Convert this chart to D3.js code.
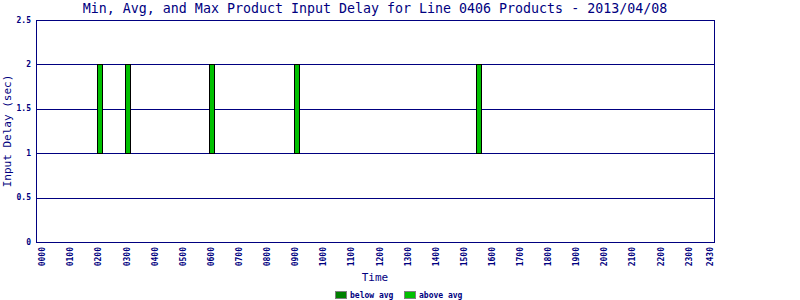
<!doctype html>
<html lang="en">
<head>
  <meta charset="utf-8">
  <title>Product Input Delay</title>
  <script src="https://d3js.org/d3.v7.min.js"></script>
  <style>
  body { margin: 0; background: #fff; }
  text { font-family: "DejaVu Sans Mono", monospace; fill: #000080; }
  </style>
</head>
<body>
<script>
  // data (delay in seconds, per product run)
  var times = ["02:03", "03:03", "06:03", "09:03", "15:33"];
  var minDelay = [1, 1, 1, 1, 1];
  var avgDelay = [1, 1, 1, 1, 1];
  var maxDelay = [2, 2, 2, 2, 2];

  var yTicks = [0, 0.5, 1, 1.5, 2, 2.5];
  var xTickHours = [0, 1, 2, 3, 4, 5, 6, 7, 8, 9, 10, 11, 12, 13, 14, 15, 16, 17, 18, 19, 20, 21, 22, 23, 23.75];
  var xTickLabels = ["0000", "0100", "0200", "0300", "0400", "0500", "0600", "0700", "0800", "0900",
                     "1000", "1100", "1200", "1300", "1400", "1500", "1600", "1700", "1800", "1900",
                     "2000", "2100", "2200", "2300", "2430"];
  var legendNames = ["below avg", "above avg"];
  var legendColors = ["#008000", "#00c000"];

  var width = 800, height = 300;
  var margin = {top: 20, right: 85, bottom: 58, left: 36};
  var navy = "#000080";

  function toHours(t) {
    var p = t.split(":");
    return +p[0] + (+p[1]) / 60;
  }

  var x = d3.scaleLinear()
      .domain([-0.23, 23.93])
      .range([margin.left, width - margin.right]);
  var y = d3.scaleLinear()
      .domain([0, 2.5])
      .range([height - margin.bottom, margin.top]);

  var svg = d3.select("body").append("svg")
      .attr("width", width)
      .attr("height", height);

  // title
  svg.append("text")
      .attr("x", 375)
      .attr("y", 13)
      .attr("text-anchor", "middle")
      .style("font-size", "13.3px")
      .text("Min, Avg, and Max Product Input Delay for Line 0406 Products - 2013/04/08");

  // horizontal grid lines
  svg.append("g")
    .selectAll("line")
    .data(yTicks.filter(function(d) { return d > 0 && d < 2.5; }))
    .enter().append("line")
      .attr("x1", x.range()[0])
      .attr("x2", x.range()[1])
      .attr("y1", function(d) { return Math.round(y(d)) + 0.5; })
      .attr("y2", function(d) { return Math.round(y(d)) + 0.5; })
      .attr("stroke", navy)
      .attr("stroke-width", 1);

  // bars: min->avg (below avg), avg->max (above avg)
  var barW = 5;
  var bars = svg.append("g");
  times.forEach(function(t, i) {
    var cx = Math.round(x(toHours(t)));
    var segs = [
      {lo: minDelay[i], hi: avgDelay[i], color: legendColors[0]},
      {lo: avgDelay[i], hi: maxDelay[i], color: legendColors[1]}
    ];
    segs.forEach(function(s) {
      if (s.hi <= s.lo) return;
      bars.append("rect")
          .attr("x", cx - barW / 2)
          .attr("y", Math.round(y(s.hi)) + 0.5)
          .attr("width", barW)
          .attr("height", Math.round(y(s.lo)) - Math.round(y(s.hi)))
          .attr("fill", s.color)
          .attr("stroke", "#000")
          .attr("stroke-width", 1);
    });
  });

  // plot frame
  svg.append("rect")
      .attr("x", margin.left + 0.5)
      .attr("y", margin.top + 0.5)
      .attr("width", x.range()[1] - x.range()[0] - 1)
      .attr("height", y.range()[0] - y.range()[1])
      .attr("fill", "none")
      .attr("stroke", navy)
      .attr("stroke-width", 1);

  // y tick labels
  svg.append("g")
    .selectAll("text")
    .data(yTicks)
    .enter().append("text")
      .attr("x", 31)
      .attr("y", function(d) { return y(d); })
      .attr("dy", "0.32em")
      .attr("text-anchor", "end")
      .style("font-size", "8px")
      .style("font-weight", "bold")
      .text(function(d) { return d; });

  // x tick labels (rotated)
  svg.append("g")
    .selectAll("text")
    .data(xTickHours)
    .enter().append("text")
      .attr("transform", function(d) { return "translate(" + x(d) + ",247) rotate(-90)"; })
      .attr("dy", "0.35em")
      .attr("text-anchor", "end")
      .style("font-size", "8px")
      .style("font-weight", "bold")
      .text(function(d, i) { return xTickLabels[i]; });

  // axis titles
  svg.append("text")
      .attr("x", 375)
      .attr("y", 281)
      .attr("text-anchor", "middle")
      .style("font-size", "11px")
      .text("Time");

  svg.append("text")
      .attr("transform", "translate(11," + ((margin.top + height - margin.bottom) / 2) + ") rotate(-90)")
      .attr("text-anchor", "middle")
      .style("font-size", "11px")
      .text("Input Delay (sec)");

  // legend
  var legend = svg.append("g");
  var legendX = [335, 404];
  legendNames.forEach(function(name, i) {
    legend.append("rect")
        .attr("x", legendX[i] + 0.5)
        .attr("y", 291.5)
        .attr("width", 11)
        .attr("height", 7)
        .attr("fill", legendColors[i])
        .attr("stroke", "#808080")
        .attr("stroke-width", 1);
    legend.append("text")
        .attr("x", legendX[i] + 15)
        .attr("y", 298)
        .style("font-size", "8px")
        .style("font-weight", "bold")
        .text(name);
  });
</script>
</body>
</html>
